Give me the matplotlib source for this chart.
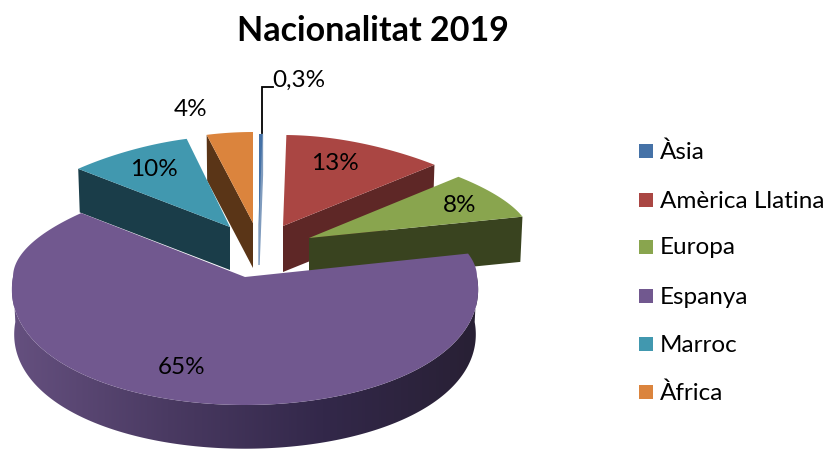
import numpy as np
import matplotlib
matplotlib.use('Agg')
import matplotlib.pyplot as plt
from matplotlib.patches import Polygon, Rectangle
from matplotlib.colors import LinearSegmentedColormap

categories = ['Àsia', 'Amèrica Llatina', 'Europa', 'Espanya', 'Marroc', 'Àfrica']
values = [0.3, 13, 8, 65, 10, 4]

top_colors = ['#4572A7', '#AA4643', '#89A54E', '#71588F', '#4198AF', '#DB843D']
cut_colors = ['#7F9BBD', '#5E2726', '#39431F', '#3A2C50', '#1A3D49', '#5A3517']

# pixel layout of the exploded slices
apex = [(259, 225), (283, 226), (309, 238), (245, 277), (230, 227), (253, 223)]
rx = [230, 225, 222, 232, 215, 230]
ry_back = [91, 91, 91, 100, 91, 91]
depth = [40, 46, 45, 45, 43, 45]
cut_end = [1, 1, 1, None, 0, 0]
RY_FRONT = 128
legend_y = [152, 201, 248, 297, 345, 393]
label_pos = [(299, 80), (335, 164), (460, 205), (182, 367), (154, 170), (191, 110)]
draw_order = [0, 5, 4, 1, 2, 3]


def project(i, t, low=False):
    c = np.cos(t)
    s = np.sin(t)
    p = np.where(c > 0, 1 - 0.2 * c ** 2, 1 - 0.1 * c)
    ry = np.where(c > 0, ry_back[i], RY_FRONT)
    k = 0.99 if low else 1.0
    x = apex[i][0] + rx[i] * s * p * k
    y = apex[i][1] - ry * c * k + (depth[i] if low else 0)
    return x, y


fig = plt.figure(figsize=(8.29, 4.5), dpi=100)
plt.rcParams['font.family'] = ['Lato', 'DejaVu Sans']
ax = fig.add_axes([0, 0, 1, 1])

wall_cmap = LinearSegmentedColormap.from_list('wall', ['#65507F', '#4A3A62', '#33284A', '#282034'])
total = sum(values)
edges = np.concatenate([[0], np.cumsum(values)]) / total * 2 * np.pi

for i in draw_order:
    t0, t1 = edges[i], edges[i + 1]
    x, y = project(i, np.linspace(t0, t1, 200))

    # flat cut face on the side turned to the viewer
    if cut_end[i] is not None:
        t_cut = edges[i + cut_end[i]]
        ox, oy = project(i, t_cut)
        lx, ly = project(i, t_cut, low=True)
        lw = 1.0 if i == 0 else 0
        ax.add_patch(Polygon([apex[i], (float(ox), float(oy)), (float(lx), float(ly)),
                              (apex[i][0], apex[i][1] + depth[i])],
                             closed=True, fc=cut_colors[i], ec=cut_colors[i], lw=lw, zorder=2))

    # curved outer wall of the big slice, shaded left to right
    a = max(t0, np.pi / 2)
    b = min(t1, 3 * np.pi / 2)
    if b > a:
        wall = np.linspace(a, b, 200)
        ux, uy = project(i, wall)
        dx, dy = project(i, wall, low=True)
        clip = Polygon(list(zip(ux, uy)) + list(zip(dx, dy))[::-1], closed=True,
                       transform=ax.transData, fc='none', ec='none')
        ax.add_patch(clip)
        im = ax.imshow(np.linspace(0, 1, 256).reshape(1, -1), cmap=wall_cmap, aspect='auto',
                       extent=(ux.min(), ux.max(), 460, 200), interpolation='bilinear', zorder=2)
        im.set_clip_path(clip)

    pts = [apex[i]] + list(zip(x, y))
    ax.add_patch(Polygon(pts, closed=True, fc=top_colors[i], ec='none', zorder=3))

ax.set_xlim(0, 829)
ax.set_ylim(450, 0)
ax.axis('off')

ax.plot([262, 262, 273], [133, 87, 87], color='black', lw=1.3, zorder=4,
        solid_joinstyle='miter')

for v, (px, py) in zip(values, label_pos):
    ax.text(px, py, f'{v:g}%'.replace('.', ','), ha='center', va='center',
            fontsize=17.5, color='black', zorder=5)

for name, col, ly in zip(categories, top_colors, legend_y):
    ax.add_patch(Rectangle((639, ly - 8), 14, 14, fc=col, ec='none'))
    ax.text(660, ly, name, ha='left', va='center', fontsize=17.5, color='black')

ax.text(373, 31, 'Nacionalitat 2019', ha='center', va='center',
        fontsize=24.5, fontweight='bold', color='black')

fig.savefig('out.png', dpi=100)
